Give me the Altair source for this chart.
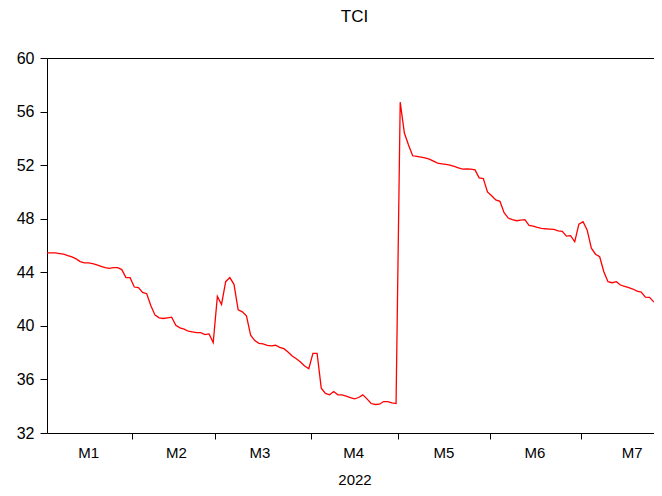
import altair as alt
import pandas as pd

values = [
    45.45, 45.45, 45.45, 45.4, 45.35, 45.25, 45.15, 45.0, 44.8, 44.7,
    44.7, 44.65, 44.55, 44.45, 44.35, 44.3, 44.35, 44.35, 44.2, 43.6,
    43.6, 42.9, 42.85, 42.5, 42.4,
    41.5, 40.8, 40.6, 40.55, 40.6, 40.65, 40.05, 39.85, 39.75, 39.6,
    39.55, 39.5, 39.5, 39.35, 39.4, 38.75, 42.2, 41.6, 43.3, 43.6,
    43.1, 41.2, 41.05, 40.75, 39.3, 38.9,
    38.7, 38.65, 38.55, 38.5, 38.55, 38.4, 38.3, 38.05, 37.75, 37.55,
    37.3, 37.0, 36.8, 37.95, 37.95, 35.35, 34.95, 34.85, 35.1, 34.85,
    34.85, 34.75, 34.65, 34.55, 34.65, 34.85, 34.55, 34.2, 34.13, 34.15,
    34.35, 34.35, 34.25, 34.2,
    56.7, 54.4, 53.5, 52.7, 52.65, 52.6, 52.55, 52.45, 52.3, 52.15,
    52.1, 52.05, 52.0, 51.9, 51.8,
    51.7, 51.72, 51.7, 51.65, 51.05, 51.0, 50.0, 49.72, 49.4, 49.3,
    48.45, 48.05, 47.93, 47.85, 47.9, 47.93, 47.5, 47.45, 47.35, 47.28,
    47.25, 47.23, 47.2, 47.1, 47.05, 46.7, 46.73, 46.28, 47.6, 47.78,
    47.15, 45.8, 45.35, 45.16, 44.04, 43.3, 43.22, 43.3, 43.05, 42.95,
    42.85, 42.75, 42.6, 42.52, 42.15, 42.13, 41.8, 41.65, 41.55,
]

month_labels = ["M1", "M2", "M3", "M4", "M5", "M6", "M7"]
month_counts = [21, 20, 23, 21, 22, 22, 20]          # observations per month
month_label_pos = [9.9, 31.0, 51.1, 73.7, 95.4, 117.3, 140.7]  # label centres (obs index)
year_label = "2022"
y_ticks = [32, 36, 40, 44, 48, 52, 56, 60]

# month boundaries (between last obs of one month and first of the next)
bounds = []
acc = 0
for c in month_counts[:-1]:
    acc += c
    bounds.append(acc - 0.5)

df = pd.DataFrame({"obs": list(range(len(values))), "TCI": values})

label_expr = " : ".join(
    f"datum.value == {p} ? '{m}'" for p, m in zip(month_label_pos, month_labels)
) + " : ''"
tick_test = "indexof([" + ",".join(str(b) for b in bounds) + "], datum.value) >= 0"

FONT = "Liberation Sans"

chart = (
    alt.Chart(df)
    .mark_line(color="#FF0000", strokeWidth=1.3)
    .encode(
        x=alt.X(
            "obs:Q",
            scale=alt.Scale(domain=[0, len(values) - 1], nice=False, zero=False),
            axis=alt.Axis(
                values=sorted(bounds + month_label_pos),
                labelExpr=label_expr,
                tickOpacity={"condition": {"test": tick_test, "value": 1}, "value": 0},
                tickSize=6,
                tickColor="black",
                labelFontSize=15,
                labelColor="black",
                labelFont=FONT,
                labelPadding=6,
                labelOverlap=False,
                labelFlush=False,
                grid=False,
                domain=False,
                title=year_label,
                titleFont=FONT,
                titleFontSize=15,
                titleFontWeight="normal",
                titleColor="black",
                titleBaseline="alphabetic",
                titleY=51,
            ),
        ),
        y=alt.Y(
            "TCI:Q",
            scale=alt.Scale(domain=[32, 60], nice=False, zero=False),
            axis=alt.Axis(
                values=y_ticks,
                tickSize=7,
                tickColor="black",
                labelFontSize=16,
                labelColor="black",
                labelFont=FONT,
                labelPadding=6,
                grid=False,
                domain=False,
                title=None,
            ),
        ),
    )
    .properties(
        width=615,
        height=375,
        autosize=alt.AutoSizeParams(type="none"),
        padding={"left": 39, "top": 50, "right": -8, "bottom": 53},
        title=alt.TitleParams(
            "TCI", fontSize=17, fontWeight="normal", font=FONT,
            color="black", anchor="middle", offset=24,
        ),
    )
    .configure_view(stroke="black", strokeWidth=1)
)

chart.save("out.html", embed_options={"renderer": "svg", "actions": False})
